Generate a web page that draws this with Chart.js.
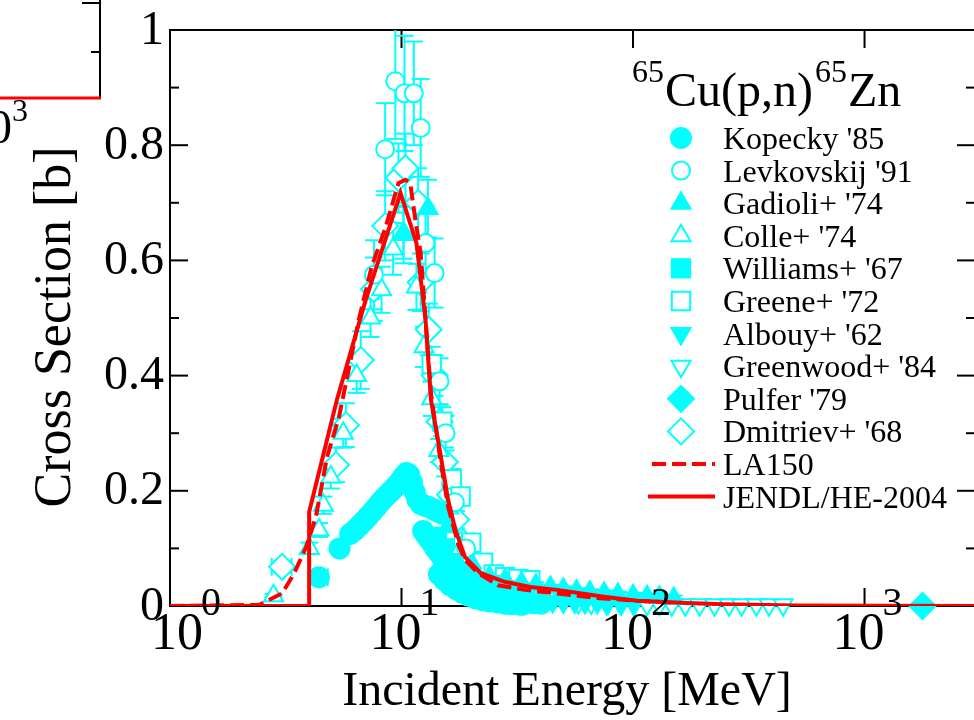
<!DOCTYPE html>
<html>
<head>
<meta charset="utf-8">
<script src="https://cdn.jsdelivr.net/npm/chart.js@4.4.1/dist/chart.umd.min.js"></script>
<style>
  html, body { margin: 0; padding: 0; background: #fff; overflow: hidden; }
  #wrap { width: 990px; height: 720px; }
</style>
</head>
<body>
<div id="wrap"><canvas id="xs" width="990" height="720"></canvas></div>
<script>
// 65Cu(p,n)65Zn excitation function: measurements vs. evaluations

// evaluated curves (energy in MeV, cross section in barn)
var jendlE = [1, 3.99, 3.99, 5.26, 7.0, 9.9, 11.6, 12.7, 13.4, 14.7, 15.9, 17.1, 18.8, 22, 27.9, 36, 47, 75, 104, 171, 246, 506, 3000];
var jendlS = [0, 0, 0.163, 0.358, 0.531, 0.717, 0.63, 0.497, 0.358, 0.266, 0.184, 0.132, 0.085, 0.057, 0.042, 0.033, 0.028, 0.016, 0.009, 0.005, 0.003, 0.001, 0];

var la150E = [1, 2.43, 3.05, 3.44, 3.87, 4.27, 4.77, 5.37, 6.54, 7.43, 8.54, 9.7, 10.4, 10.9, 11.6, 12.1, 13.4, 14.7, 15.9, 17.6, 18.8, 21.4, 26.1, 34, 44, 70, 104, 150];
var la150S = [0, 0.002, 0.022, 0.057, 0.102, 0.155, 0.259, 0.328, 0.497, 0.589, 0.658, 0.734, 0.74, 0.734, 0.658, 0.613, 0.37, 0.255, 0.172, 0.106, 0.08, 0.057, 0.036, 0.028, 0.023, 0.014, 0.009, 0.006];

// measurements
var kopeckyE = [4.4, 5.4, 6.0, 6.3, 6.6, 6.9, 7.2, 7.5, 7.8, 8.1, 8.4, 8.7, 9.0, 9.3, 9.6, 9.9, 10.2, 10.5, 10.8, 11.1, 11.4, 11.7, 12.1, 12.6, 13.1, 13.7, 14.3, 15.0,
                12.4, 12.8, 13.2, 13.6, 14.0, 14.5, 15.0, 15.5, 16.1, 16.7, 17.4, 18.2, 19.0, 20, 21, 22, 23.5, 25, 26.5, 28, 30, 32, 34, 37, 40,
                14.5, 15.3, 16.2, 17.2, 18.3, 19.5, 21, 22.5, 24, 26, 28, 30, 33];
var kopeckyS = [0.05, 0.10, 0.125, 0.132, 0.14, 0.148, 0.156, 0.164, 0.172, 0.18, 0.187, 0.193, 0.199, 0.205, 0.211, 0.218, 0.225, 0.231, 0.228, 0.215, 0.198, 0.185, 0.177, 0.174, 0.172, 0.168, 0.164, 0.16,
                0.13, 0.122, 0.115, 0.108, 0.1, 0.092, 0.084, 0.077, 0.069, 0.062, 0.055, 0.048, 0.042, 0.036, 0.031, 0.027, 0.022, 0.018, 0.015, 0.012, 0.01, 0.008, 0.007, 0.005, 0.004,
                0.055, 0.045, 0.036, 0.029, 0.023, 0.018, 0.013, 0.01, 0.008, 0.006, 0.004, 0.003, 0.002];
var kopeckyDE = [0.4];

var levkovskijE = [7.6, 8.5, 9.4, 10.3, 11.3, 12.1, 12.7, 13.9, 14.6, 15.5, 17, 19];
var levkovskijS = [0.575, 0.793, 0.911, 0.89, 0.89, 0.83, 0.63, 0.578, 0.39, 0.3, 0.18, 0.1];
var levkovskijDS = [0.06, 0.08, 0.1, 0.1, 0.09, 0.085, 0.065, 0.06, 0.04, 0.03, 0.02, 0.012];

var gadioliE = [10.2, 13.0, 16, 20, 24, 28, 33, 38, 44, 50, 57, 65, 75, 86, 100, 115, 130, 150];
var gadioliS = [0.645, 0.69, 0.14, 0.075, 0.05, 0.045, 0.04, 0.036, 0.032, 0.029, 0.026, 0.024, 0.022, 0.02, 0.018, 0.016, 0.015, 0.013];
var gadioliDS = [0.05, 0.05, 0.012, 0.007, 0.006, 0.006, 0.005, 0.005, 0.005, 0.005, 0.005, 0.005, 0.005, 0.005, 0.005, 0.005, 0.005, 0.005];

var colleE = [2.8, 4.0, 4.4, 4.6, 4.95, 5.6, 6.4, 7.35, 8.2, 9.2, 10.2, 11.6, 12.5, 13.5, 14.5, 16, 18];
var colleS = [0.018, 0.10, 0.132, 0.175, 0.224, 0.3, 0.4, 0.50, 0.549, 0.62, 0.648, 0.554, 0.45, 0.36, 0.27, 0.17, 0.1];
var colleDS = [0.003, 0.01, 0.012, 0.015, 0.02, 0.025, 0.03, 0.033, 0.04, 0.045, 0.045, 0.04, 0.035, 0.03, 0.02, 0.015, 0.01];

var williamsE = [14.2, 15.4, 16.8, 18.3, 20, 22, 24.5, 27, 30, 34];
var williamsS = [0.12, 0.1, 0.075, 0.06, 0.05, 0.042, 0.036, 0.031, 0.027, 0.023];
var williamsDS = [0.01, 0.008, 0.007, 0.006, 0.005, 0.005, 0.004, 0.004, 0.004, 0.004];

var greeneE = [13.5, 15, 16.5, 18, 20, 22.5, 25, 28, 32, 36];
var greeneS = [0.42, 0.32, 0.22, 0.19, 0.11, 0.075, 0.055, 0.05, 0.047, 0.045];
var greeneDS = [0.03, 0.025, 0.018, 0.015, 0.009, 0.007, 0.006, 0.006, 0.006, 0.006];

var albouyE = [26, 29, 32, 36, 40, 45, 50, 56, 62, 70, 78, 88, 100];
var albouyS = [0.012, 0.011, 0.01, 0.009, 0.008, 0.008, 0.007, 0.007, 0.006, 0.006, 0.005, 0.005, 0.005];

var greenwoodE = [58, 66, 77, 89, 101, 115, 130, 147, 168, 194, 225, 260, 294, 341, 387, 445];
var greenwoodS = [0.006, 0.005, 0.004, 0.004, 0.003, 0.003, 0.003, 0.002, 0.002, 0.002, 0.002, 0.002, 0.002, 0.002, 0.002, 0.002];

var pulferE = [1780];
var pulferS = [0.0];

var dmitrievE = [3.05, 5.21, 5.75, 6.67, 7.6, 8.5, 9.7, 10.4, 11.8, 12.1, 13.1, 13.9, 14.6, 15.4, 16.2, 17.2, 18.5, 20, 22, 25];
var dmitrievS = [0.068, 0.245, 0.314, 0.427, 0.55, 0.66, 0.743, 0.76, 0.70, 0.562, 0.48, 0.40, 0.32, 0.25, 0.193, 0.15, 0.11, 0.08, 0.06, 0.045];
var dmitrievDS = [0.01, 0.03, 0.038, 0.05, 0.055, 0.06, 0.06, 0.06, 0.06, 0.05, 0.045, 0.035, 0.03, 0.025, 0.02, 0.015, 0.012, 0.01, 0.008, 0.006];
var dmitrievDE = [0.3];

// axes
var xMajor = [1, 10, 100, 1000];
var xExp = ['0', '1', '2', '3'];
var yMajor = [0, 0.2, 0.4, 0.6, 0.8, 1];
var yLabels = ['0', '0.2', '0.4', '0.6', '0.8', '1'];
var yMinor = [0.1, 0.3, 0.5, 0.7, 0.9];

var CYAN = '#00ffff', RED = '#ff0000';
var FONT = "'Liberation Serif', 'Times New Roman', serif";

function pts(e, s) {
  return e.map(function (v, i) { return { x: v, y: s[i] }; });
}

function marks(label, e, s, style, r, rot, filled, dy, dx) {
  return {
    label: label,
    data: pts(e, s),
    showLine: false,
    pointStyle: style,
    pointRadius: r,
    pointHoverRadius: r,
    pointRotation: rot,
    pointBackgroundColor: filled ? CYAN : '#ffffff',
    pointBorderColor: CYAN,
    pointBorderWidth: 2,
    yErr: dy,
    xErr: dx,
    order: 1,
    clip: { left: 0, top: 0, right: 0, bottom: 20 }
  };
}

var datasets = [
  marks("Kopecky '85", kopeckyE, kopeckyS, 'circle', 10, 0, true, null, kopeckyDE),
  marks("Levkovskij '91", levkovskijE, levkovskijS, 'circle', 9, 0, false, levkovskijDS),
  marks("Gadioli+ '74", gadioliE, gadioliS, 'triangle', 11, 0, true, gadioliDS),
  marks("Colle+ '74", colleE, colleS, 'triangle', 11, 0, false, colleDS),
  marks("Williams+ '67", williamsE, williamsS, 'rect', 13, 0, true, williamsDS),
  marks("Greene+ '72", greeneE, greeneS, 'rect', 13, 0, false, greeneDS),
  marks("Albouy+ '62", albouyE, albouyS, 'triangle', 11, 180, true),
  marks("Greenwood+ '84", greenwoodE, greenwoodS, 'triangle', 11, 180, false),
  marks("Pulfer '79", pulferE, pulferS, 'rectRot', 13, 0, true),
  marks("Dmitriev+ '68", dmitrievE, dmitrievS, 'rectRot', 13, 0, false, dmitrievDS, dmitrievDE),
  {
    label: 'LA150', data: pts(la150E, la150S), showLine: true,
    borderColor: RED, borderWidth: 4, borderDash: [14, 6], pointRadius: 0, order: 0
  },
  {
    label: 'JENDL/HE-2004', data: pts(jendlE, jendlS), showLine: true,
    borderColor: RED, borderWidth: 4, pointRadius: 0, order: 0
  }
];

function seg(ctx, x1, y1, x2, y2) {
  ctx.beginPath(); ctx.moveTo(x1, y1); ctx.lineTo(x2, y2); ctx.stroke();
}

// frame with inward ticks, then error bars, all under the symbols
var framePlugin = {
  id: 'frame',
  beforeDatasetsDraw: function (chart) {
    var ctx = chart.ctx, a = chart.chartArea, xs = chart.scales.x, ys = chart.scales.y;
    ctx.save();
    ctx.strokeStyle = '#000';
    ctx.lineWidth = 2;
    ctx.strokeRect(a.left, a.top, a.right - a.left, a.bottom - a.top);
    xMajor.forEach(function (v) {
      var px = xs.getPixelForValue(v);
      seg(ctx, px, a.bottom, px, a.bottom - 18);
      seg(ctx, px, a.top, px, a.top + 18);
    });
    yMajor.forEach(function (v) {
      var py = ys.getPixelForValue(v);
      seg(ctx, a.left, py, a.left + 18, py);
      seg(ctx, a.right, py, a.right - 18, py);
    });
    yMinor.forEach(function (v) {
      var py = ys.getPixelForValue(v);
      seg(ctx, a.left, py, a.left + 9, py);
      seg(ctx, a.right, py, a.right - 9, py);
    });
    ctx.restore();

    ctx.save();
    ctx.beginPath();
    ctx.rect(a.left, a.top, a.right - a.left, a.bottom - a.top + 20);
    ctx.clip();
    ctx.strokeStyle = CYAN;
    ctx.lineWidth = 2;
    chart.data.datasets.forEach(function (ds) {
      if (!ds.yErr && !ds.xErr) return;
      ds.data.forEach(function (p, i) {
        var px = xs.getPixelForValue(p.x), py = ys.getPixelForValue(p.y);
        var ey = ds.yErr ? ds.yErr[i] : 0;
        var ex = ds.xErr ? ds.xErr[i] : 0;
        if (ey) {
          var t = ys.getPixelForValue(p.y + ey), b = ys.getPixelForValue(p.y - ey);
          seg(ctx, px, t, px, b);
          seg(ctx, px - 9, t, px + 9, t);
          seg(ctx, px - 9, b, px + 9, b);
        }
        if (ex) {
          var l = xs.getPixelForValue(p.x - ex), r = xs.getPixelForValue(p.x + ex);
          seg(ctx, l, py, r, py);
          seg(ctx, l, py - 9, l, py + 9);
          seg(ctx, r, py - 9, r, py + 9);
        }
      });
    });
    ctx.restore();
  }
};

// tick labels, axis titles, reaction label and legend
var textPlugin = {
  id: 'texts',
  afterDraw: function (chart) {
    var ctx = chart.ctx, a = chart.chartArea, xs = chart.scales.x, ys = chart.scales.y;
    ctx.save();
    ctx.fillStyle = '#000';

    // y tick labels
    ctx.font = '48px ' + FONT;
    ctx.textAlign = 'right';
    ctx.textBaseline = 'middle';
    yMajor.forEach(function (v, i) {
      ctx.fillText(yLabels[i], a.left - 6, ys.getPixelForValue(v) + 1);
    });

    // x tick labels as powers of ten
    ctx.textAlign = 'left';
    ctx.textBaseline = 'alphabetic';
    xMajor.forEach(function (v, i) {
      ctx.font = '52px ' + FONT;
      var w1 = ctx.measureText('10').width;
      ctx.font = '40px ' + FONT;
      var w2 = ctx.measureText(xExp[i]).width;
      var x0 = Math.max(xs.getPixelForValue(v) - (w1 + w2) / 2 + 4, 151);
      ctx.font = '52px ' + FONT;
      ctx.fillText('10', x0, 649);
      ctx.font = '40px ' + FONT;
      ctx.fillText(xExp[i], x0 + w1 - 2, 615);
    });

    // axis titles
    ctx.font = '48px ' + FONT;
    ctx.textAlign = 'center';
    ctx.fillText('Incident Energy [MeV]', 567, 705);
    ctx.save();
    ctx.translate(70, 327);
    ctx.rotate(-Math.PI / 2);
    ctx.font = '52px ' + FONT;
    ctx.fillText('Cross Section [b]', 0, 0);
    ctx.restore();

    // reaction label with mass numbers raised
    ctx.textAlign = 'left';
    var x = 632;
    ctx.font = '32px ' + FONT;
    ctx.fillText('65', x, 82);
    x += ctx.measureText('65').width + 1;
    ctx.font = '48px ' + FONT;
    ctx.fillText('Cu(p,n)', x, 106);
    x += ctx.measureText('Cu(p,n)').width + 2;
    ctx.font = '32px ' + FONT;
    ctx.fillText('65', x, 82);
    x += ctx.measureText('65').width + 1;
    ctx.font = '48px ' + FONT;
    ctx.fillText('Zn', x, 106);

    // legend
    ctx.font = '32px ' + FONT;
    chart.data.datasets.forEach(function (ds, i) {
      var y = 138 + i * 32.6;
      if (ds.showLine) {
        ctx.save();
        ctx.strokeStyle = ds.borderColor;
        ctx.lineWidth = ds.borderWidth;
        ctx.setLineDash(ds.borderDash || []);
        seg(ctx, ds.borderDash ? 652 : 648, y, 715, y);
        ctx.restore();
      } else {
        ctx.save();
        ctx.fillStyle = ds.pointBackgroundColor;
        ctx.strokeStyle = ds.pointBorderColor;
        ctx.lineWidth = ds.pointBorderWidth;
        Chart.helpers.drawPoint(ctx, {
          pointStyle: ds.pointStyle, radius: Math.min(ds.pointRadius, 13),
          rotation: ds.pointRotation, borderWidth: ds.pointBorderWidth
        }, 681, y);
        ctx.restore();
      }
      ctx.fillStyle = '#000';
      ctx.fillText(ds.label, 723, y + 11);
    });

    // corner of the neighbouring panel
    ctx.strokeStyle = '#000';
    ctx.lineWidth = 2;
    seg(ctx, 100, 0, 100, 99);
    seg(ctx, 82, 3, 100, 3);
    seg(ctx, 91, 52, 100, 52);
    ctx.strokeStyle = RED;
    ctx.lineWidth = 3;
    seg(ctx, 0, 98, 101, 98);
    ctx.fillStyle = '#000';
    ctx.font = '48px ' + FONT;
    ctx.textAlign = 'right';
    ctx.fillText('10', 12, 143);
    ctx.font = '32px ' + FONT;
    ctx.textAlign = 'left';
    ctx.fillText('3', 12, 121);
    ctx.restore();
  }
};

new Chart(document.getElementById('xs'), {
  type: 'scatter',
  data: { datasets: datasets },
  options: {
    responsive: false,
    animation: false,
    layout: { padding: { left: 170, top: 30, right: 13, bottom: 114 } },
    plugins: { legend: { display: false }, tooltip: { enabled: false } },
    scales: {
      x: { type: 'logarithmic', min: 1, max: 3000, display: false },
      y: { type: 'linear', min: 0, max: 1, display: false }
    }
  },
  plugins: [framePlugin, textPlugin]
});
</script>
</body>
</html>
